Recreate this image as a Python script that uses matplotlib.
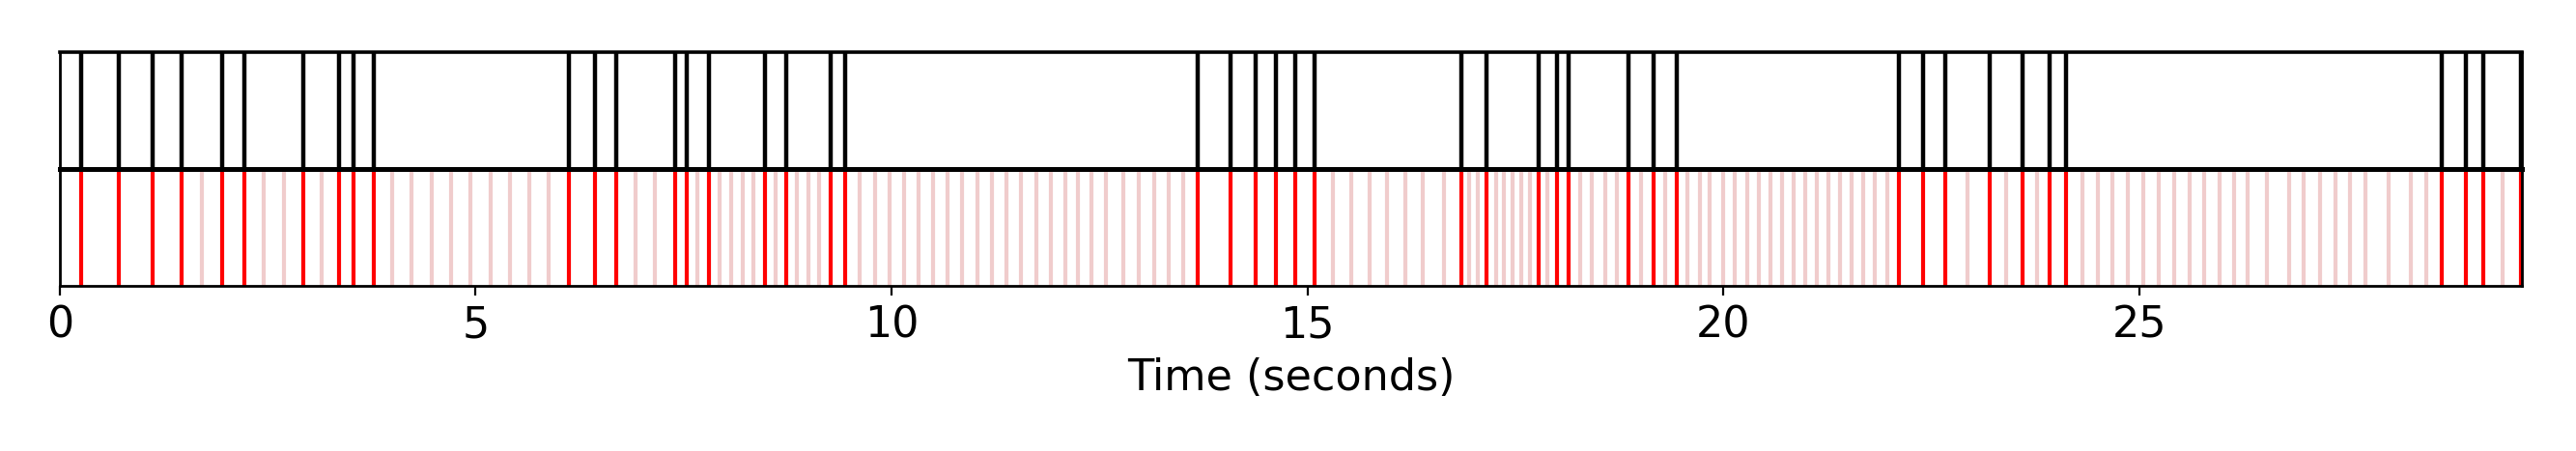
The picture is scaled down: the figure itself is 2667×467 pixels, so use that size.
"""Onset events (top) and frame grid with selected onsets (bottom)."""
import matplotlib
matplotlib.use("Agg")
import matplotlib.pyplot as plt

DURATION = 29.6  # seconds shown on the time axis

# detected onsets (black on top, red on bottom)
onsets = [0.255, 0.712, 1.115, 1.467, 1.955, 2.214, 2.926, 3.360, 3.530, 3.770,
          6.119, 6.429, 6.685, 7.393, 7.540, 7.800, 8.473, 8.729, 9.266, 9.440,
          13.679, 14.074, 14.375, 14.616, 14.852, 15.088, 16.845, 17.154, 17.778,
          18.002, 18.138, 18.861, 19.156, 19.434, 22.109, 22.400, 22.663, 23.204,
          23.599, 23.924, 24.125, 28.638, 28.925, 29.134, 29.587]

# remaining candidate frames (light pink on bottom)
frames = [1.711, 2.450, 2.690, 3.143, 3.998, 4.227, 4.471, 4.703, 4.939, 5.175,
          5.411, 5.640, 5.876, 6.920, 7.156, 7.667, 7.935, 8.070, 8.206, 8.337,
          8.601, 8.860, 8.996, 9.131, 9.618, 9.797, 9.971, 10.145, 10.319, 10.497,
          10.671, 10.849, 11.027, 11.205, 11.383, 11.561, 11.739, 11.917, 12.095,
          12.242, 12.401, 12.575, 12.788, 12.974, 13.156, 13.334, 13.508, 15.308,
          15.525, 15.742, 15.959, 16.179, 16.388, 16.640, 16.941, 17.046, 17.263,
          17.363, 17.460, 17.569, 17.673, 17.886, 18.281, 18.413, 18.575, 18.722,
          19.008, 19.295, 19.573, 19.716, 19.832, 19.998, 20.142, 20.285, 20.424,
          20.568, 20.704, 20.843, 20.982, 21.125, 21.265, 21.400, 21.544, 21.683,
          21.823, 21.970, 22.937, 23.402, 23.766, 24.311, 24.497, 24.678, 24.864,
          25.046, 25.232, 25.418, 25.600, 25.782, 25.967, 26.134, 26.297, 26.529,
          26.800, 26.978, 27.168, 27.354, 27.535, 27.721, 28.000, 28.267, 28.449,
          29.370]

plt.rcParams["font.size"] = 16
plt.rcParams["axes.linewidth"] = 1.0
fig, (ax1, ax2) = plt.subplots(2, 1, figsize=(13.335, 2.335), dpi=200, sharex=True)
fig.subplots_adjust(left=0.0232, right=0.979, top=0.884, bottom=0.366, hspace=0)

for t in onsets:
    ax1.axvline(t, color="k", lw=1.6)

for t in frames:
    ax2.axvline(t, color="#f0cccc", lw=1.5)
for t in onsets:
    ax2.axvline(t, color="r", lw=1.5)

for ax in (ax1, ax2):
    ax.set_yticks([])
    ax.set_xlim(0, DURATION)
ax1.tick_params(axis="x", bottom=False, labelbottom=False)
# shared border between the two panels reads heavier in the original
ax1.spines["bottom"].set_linewidth(1.8)
ax2.spines["top"].set_linewidth(1.8)
ax1.spines["top"].set_linewidth(1.3)
ax2.set_xticks([0, 5, 10, 15, 20, 25])
ax2.set_xlabel("Time (seconds)")

plt.savefig("out.png", dpi=200)
